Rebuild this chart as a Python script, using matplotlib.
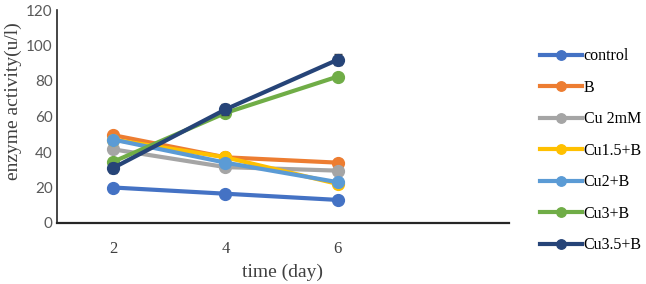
import numpy as np
import matplotlib
matplotlib.use('Agg')
import matplotlib.pyplot as plt

# data
days = [2, 4, 6]
labels = ['control', 'B', 'Cu 2mM', 'Cu1.5+B', 'Cu2+B', 'Cu3+B', 'Cu3.5+B']
control = [20, 16.5, 13]
b = [49.5, 37, 34]
cu2mm = [41.5, 31.5, 29.5]
cu15b = [47, 37, 22]
cu2b = [47, 34, 23]
cu3b = [34.5, 62, 82.5]
cu35b = [31, 64, 92]
err = [1.5, 2.0, 1.5, 2.0, 1.5, 1.0, 3.0]
colors = ['#4472C4', '#ED7D31', '#A5A5A5', '#FFC000', '#5B9BD5', '#70AD47', '#264478']

series = [control, b, cu2mm, cu15b, cu2b, cu3b, cu35b]

fig = plt.figure(figsize=(6.46, 2.84), dpi=100)
ax = fig.add_axes([57/646, 61/284, (509-57)/646, (223-10)/284])

for vals, lab, c, e in zip(series, labels, colors, err):
    ax.errorbar(days, vals, yerr=e, fmt='none', ecolor='#404040',
                elinewidth=1, capsize=3, capthick=1)
    ax.plot(days, vals, color=c, lw=3, marker='o', ms=8.5, label=lab)

ax.set_xlim(1, 9.05)
ax.set_ylim(0, 120)
ax.set_xticks(days)
ax.set_yticks(range(0, 121, 20))
ax.spines['top'].set_visible(False)
ax.spines['right'].set_visible(False)
ax.spines['left'].set_color('#262626')
ax.spines['bottom'].set_color('#262626')
ax.spines['left'].set_linewidth(1.2)
ax.spines['bottom'].set_linewidth(1.6)
ax.tick_params(length=0)
for t in ax.get_yticklabels():
    t.set_fontfamily('Lato')
    t.set_fontsize(11)
    t.set_color('#595959')
for t in ax.get_xticklabels():
    t.set_fontfamily('Liberation Serif')
    t.set_fontsize(12)
    t.set_color('#404040')
ax.tick_params(axis='x', pad=13)
ax.tick_params(axis='y', pad=3)

ax.set_xlabel('time (day)', family='Liberation Serif', fontsize=14, color='#404040')
ax.xaxis.set_label_coords(0.5, -0.19)
ax.set_ylabel('enzyme activity(u/l)', family='Liberation Serif', fontsize=14, color='#404040')
ax.yaxis.set_label_coords(-0.077, 0.573)

fig.legend(loc='upper left', bbox_to_anchor=(534/646, 1 - 42/284), frameon=False,
           prop={'family': 'Liberation Serif', 'size': 11.5}, labelspacing=0.97,
           handlelength=2.6, handletextpad=0.1, borderaxespad=0, markerscale=0.8)

fig.savefig('out.png', dpi=100)
